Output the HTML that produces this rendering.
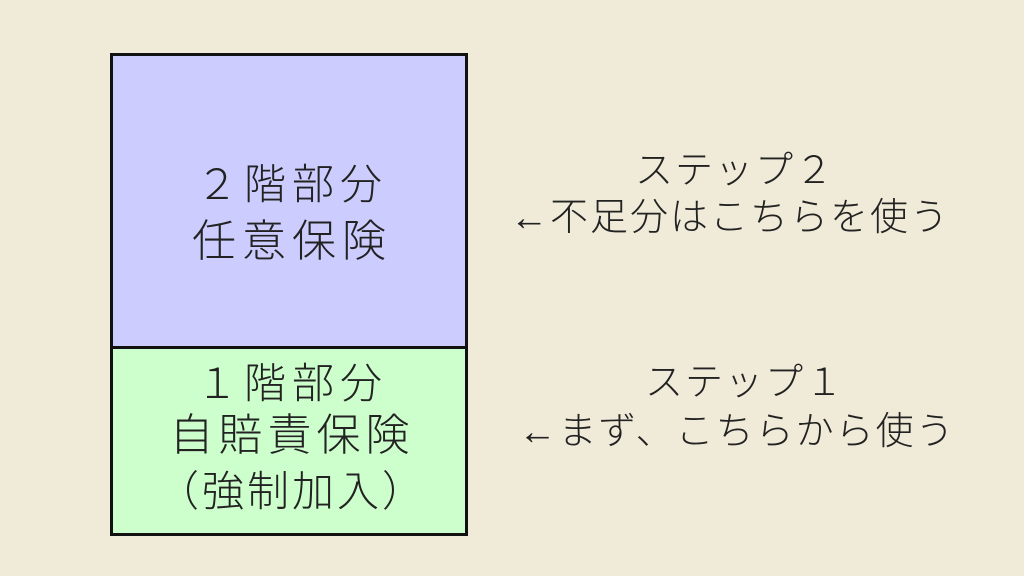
<!DOCTYPE html>
<html><head><meta charset="utf-8"><style>
html,body{margin:0;padding:0}
body{width:1024px;height:576px;background:#efebd8;position:relative;overflow:hidden;font-family:"Liberation Sans","Noto Sans CJK JP",sans-serif;color:#222}
.box{position:absolute;left:110px;width:352px;border:3px solid #111}
.t{position:absolute;white-space:nowrap;text-align:center;font-weight:300;line-height:1}
.b{letter-spacing:6px;text-indent:6px}
.r{letter-spacing:2px}
</style></head><body>
<div class="box" style="top:53px;height:293px;background:#ccccff"></div>
<div class="box" style="top:346px;height:184px;background:#ccffcc"></div>
<div class="t b" style="left:110px;width:358px;top:164px;font-size:42px">２階部分</div>
<div class="t b" style="left:110px;width:358px;top:220px;font-size:44px">任意保険</div>
<div class="t b" style="left:110px;width:358px;top:363px;font-size:42px">１階部分</div>
<div class="t b" style="left:110px;width:358px;top:414px;font-size:44px;letter-spacing:5px">自賠責保険</div>
<div class="t b" style="left:110px;width:358px;top:471px;font-size:42px;letter-spacing:3px">（強制加入）</div>
<div class="t r" style="left:600px;width:270px;top:152px;font-size:38px">ステップ２</div>
<div class="t r" style="left:505px;width:450px;top:199px;font-size:38px">←不足分はこちらを使う</div>
<div class="t r" style="left:610px;width:270px;top:364px;font-size:38px">ステップ１</div>
<div class="t r" style="left:510px;width:454px;top:413px;font-size:38px">←まず、こちらから使う</div>
</body></html>
